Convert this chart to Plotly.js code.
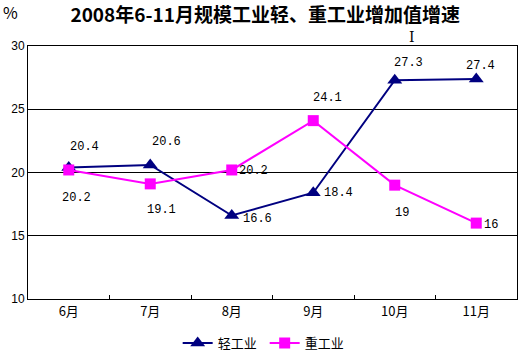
<!DOCTYPE html>
<html><head><meta charset="utf-8">
<script src="https://cdn.plot.ly/plotly-3.0.1.min.js"></script>
<style>body{margin:0;background:#fff}#c{width:521px;height:353px}</style>
</head><body><div id="c"></div>
<script>
const months = ['6月','7月','8月','9月','10月','11月'];
const lightName = '轻工业';
const heavyName = '重工业';
const lightValues = [20.4, 20.6, 16.6, 18.4, 27.3, 27.4];
const heavyValues = [20.2, 19.1, 20.2, 24.1, 19, 16];
const yTicks = [10, 15, 20, 25, 30];

// label offsets in pixels (styling only): [dx, dy] with dy positive = down
const lightShift = [[16,-20],[16,-23],[26,3],[25,0],[14,-17],[4,-13]];
const heavyShift = [[8,28],[11,26],[22,1],[14,-23],[7,28],[15,2]];

const numFont = {family:'Liberation Mono, DejaVu Sans Mono, monospace', size:12, color:'#000'};
const cjk = 'Noto Sans CJK SC, sans-serif';

const annotations = [];
function addLabels(vals, shifts){
  vals.forEach((v,i)=>annotations.push({x:months[i], y:v, xref:'x', yref:'y', text:String(v), showarrow:false,
    xanchor:'center', yanchor:'middle', xshift:shifts[i][0], yshift:-shifts[i][1], font:numFont}));
}
addLabels(lightValues, lightShift);
addLabels(heavyValues, heavyShift);
annotations.push({xref:'paper', yref:'paper', x:-0.035, y:1.135, xanchor:'center', yanchor:'middle', text:'%', showarrow:false, font:{family:cjk, size:16, color:'#000'}});
annotations.push({xref:'paper', yref:'paper', x:0.786, y:1.035, xanchor:'center', yanchor:'middle', text:'I', showarrow:false, font:{family:'DejaVu Serif, serif', size:14, color:'#000'}});

const traces = [
 {x:months, y:lightValues, name:lightName, type:'scatter', mode:'lines+markers',
  line:{color:'#000080', width:2}, marker:{symbol:'triangle-up', size:13, color:'#000080'}},
 {x:months, y:heavyValues, name:heavyName, type:'scatter', mode:'lines+markers',
  line:{color:'#FF00FF', width:2}, marker:{symbol:'square', size:11, color:'#FF00FF'}}
];

const layout = {
 width:521, height:353,
 margin:{l:28, r:4, t:46, b:54},
 paper_bgcolor:'#fff', plot_bgcolor:'#fff',
 title:{text:'<b>2008年6-11月规模工业轻、重工业增加值增速</b>', x:0.509, xanchor:'center', y:0.957, yanchor:'middle', font:{family:cjk, size:19, color:'#000'}},
 xaxis:{type:'category', range:[-0.5,5.5], showline:true, mirror:true, linecolor:'#000', linewidth:1,
   ticks:'inside', tickson:'boundaries', ticklen:4, tickcolor:'#000', showgrid:false,
   tickfont:{family:cjk, size:13, color:'#000'}},
 yaxis:{range:[10,30], tickvals:yTicks, showline:true, mirror:true, linecolor:'#000', linewidth:1,
   showgrid:true, gridcolor:'#000', gridwidth:1, ticks:'', zeroline:false,
   tickfont:{family:'Liberation Sans, Arial, sans-serif', size:12, color:'#000'}},
 showlegend:true,
 legend:{orientation:'h', xref:'paper', x:0.484, xanchor:'center', yref:'container', y:0.028, yanchor:'middle',
   font:{family:cjk, size:13, color:'#000'}, itemwidth:30, entrywidth:42},
 annotations:annotations
};
Plotly.newPlot('c', traces, layout, {displayModeBar:false, staticPlot:true});
</script></body></html>
